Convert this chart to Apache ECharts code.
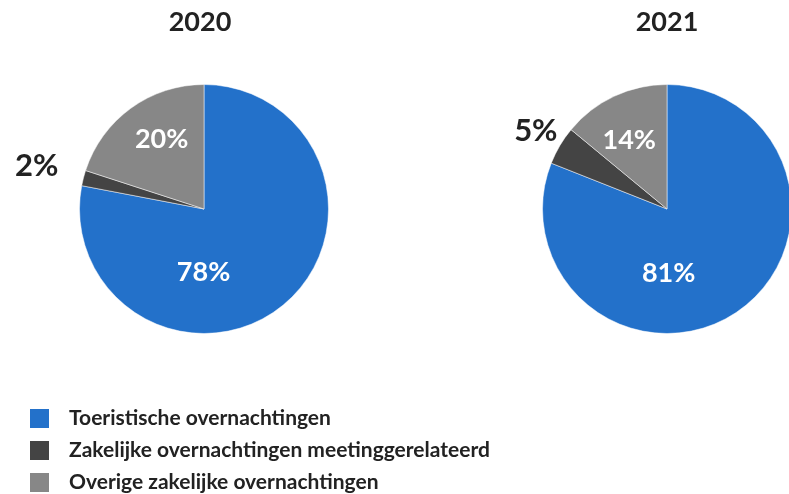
<!DOCTYPE html>
<html>
<head>
<meta charset="utf-8">
<script src="https://cdn.jsdelivr.net/npm/echarts@6/dist/echarts.min.js"></script>
<style>html,body{margin:0;padding:0;background:#fff;}#c{width:789px;height:494px;}</style>
</head>
<body>
<div id="c"></div>
<script>
const categories = ['Toeristische overnachtingen', 'Zakelijke overnachtingen meetinggerelateerd', 'Overige zakelijke overnachtingen'];
const years = ['2020', '2021'];
const values2020 = [78, 2, 20];
const values2021 = [81, 5, 14];

const colors = ['#2371CA', '#444444', '#878787'];
const FONT = 'Lato';
// label styling per slice (style only)
const labelStyles2020 = [
  {offset: [-42, 13], color: '#fff', size: 27},
  {offset: [-104, -27], color: '#222', size: 31},
  {offset: [-4, -17], color: '#fff', size: 27}
];
const labelStyles2021 = [
  {offset: [-35, 10], color: '#fff', size: 27},
  {offset: [-75, -45], color: '#222', size: 31},
  {offset: [-10, -10], color: '#fff', size: 27}
];

function buildData(values, styles) {
  return categories.map((name, i) => ({
    name: name,
    value: values[i],
    itemStyle: {color: colors[i]},
    label: {offset: styles[i].offset, color: styles[i].color, fontSize: styles[i].size}
  }));
}

function series(values, styles, cx) {
  return {
    type: 'pie',
    center: [cx, 209],
    radius: [0, 124.5],
    startAngle: 90,
    clockwise: true,
    animation: false,
    silent: true,
    itemStyle: {borderColor: '#ffffff', borderWidth: 0.5},
    label: {
      show: true,
      position: 'inside',
      formatter: '{c}%',
      fontFamily: FONT,
      fontWeight: 'bold',
      fontSize: 27
    },
    labelLine: {show: false},
    emphasis: {disabled: true},
    data: buildData(values, styles)
  };
}

const legends = categories.map((name, i) => ({
  orient: 'vertical',
  left: 28,
  top: 407 + 32 * i,
  padding: 0,
  itemWidth: 21,
  itemHeight: 21,
  icon: 'rect',
  selectedMode: false,
  data: [name],
  textStyle: {fontFamily: FONT, fontWeight: 'bold', fontSize: 21, lineHeight: 21, color: '#222', padding: [0, 0, 0, 14]}
}));

const chart = echarts.init(document.getElementById('c'), null, {renderer: 'canvas'});
chart.setOption({
  backgroundColor: '#ffffff',
  title: [
    {text: years[0], left: 195, top: 4, textAlign: 'center',
     textStyle: {fontFamily: FONT, fontWeight: 'bold', fontSize: 27, color: '#222'}},
    {text: years[1], left: 662, top: 4, textAlign: 'center',
     textStyle: {fontFamily: FONT, fontWeight: 'bold', fontSize: 27, color: '#222'}}
  ],
  legend: legends,
  series: [
    series(values2020, labelStyles2020, 204),
    series(values2021, labelStyles2021, 667)
  ]
});
</script>
</body>
</html>
